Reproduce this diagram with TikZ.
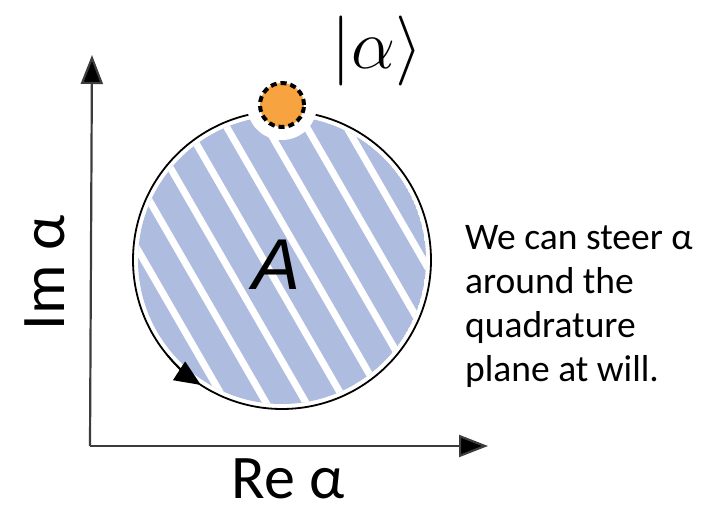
\RequirePackage{fix-cm}
\documentclass[tikz,border=0pt]{standalone}
\usepackage{fontspec}
\setmainfont{Carlito}
\newfontfamily\arialfont{Liberation Sans}
\usepackage{tikz}
\usetikzlibrary{arrows.meta}
\definecolor{blu}{RGB}{174,189,223}
\definecolor{org}{RGB}{246,163,64}
\definecolor{axc}{RGB}{60,60,60}

\begin{document}
\begin{tikzpicture}[x=1pt,y=1pt,
  axis/.style={line width=2.2pt,draw=axc,-{Triangle[length=29pt,width=22pt,fill=black]}},
  big/.style={font=\fontsize{62}{66}\selectfont}]
  \useasboundingbox (0,0) rectangle (715,507);
  \coordinate (O) at (90,61); \coordinate (ytip) at (92,452); \coordinate (xtip) at (488,61);
  \coordinate (C) at (282,247); \coordinate (ket) at (282,402);
  \draw[axis] (O) -- (ytip);
  \draw[axis] (O) -- (xtip);
  % striped phase-space area
  \begin{scope}
    \clip (C) circle (144);
    \fill[blu] (C) circle (144);
    \foreach \k in {-5,...,5} \draw[white,line width=7pt,shift={(C)},rotate=30] (\k*34.6-16,-170) -- (\k*34.6-16,170);
  \end{scope}
  \draw[line width=1.8pt] (C) circle (149);
  \draw[line width=1.8pt,-{Triangle[length=26pt,width=22pt]}] (C) ++(220:149) arc (220:237:149);
  \fill[white] (ket) circle (35);
  \draw[fill=org,line width=4pt,dash pattern=on 6pt off 4pt] (ket) circle (22);
  \node[font=\fontsize{70}{76}\selectfont] (state) at (377,456) {$|\alpha\rangle$};
  \node[font=\arialfont\itshape\fontsize{72}{72}\selectfont] (area) at (277,242) {A};
  \node[big,rotate=90] (imlab) at (45,234) {Im α};
  \node[big,anchor=base,inner sep=0pt] (relab) at (288,9) {\raisebox{0pt}[\height][0pt]{Re α}};
  \node[anchor=north west,inner sep=0pt,align=left,font=\fontsize{37.5}{44}\selectfont] (note) at (465,282)
    {We can steer α\\around the\\quadrature\\plane at will.};
\end{tikzpicture}
\end{document}
